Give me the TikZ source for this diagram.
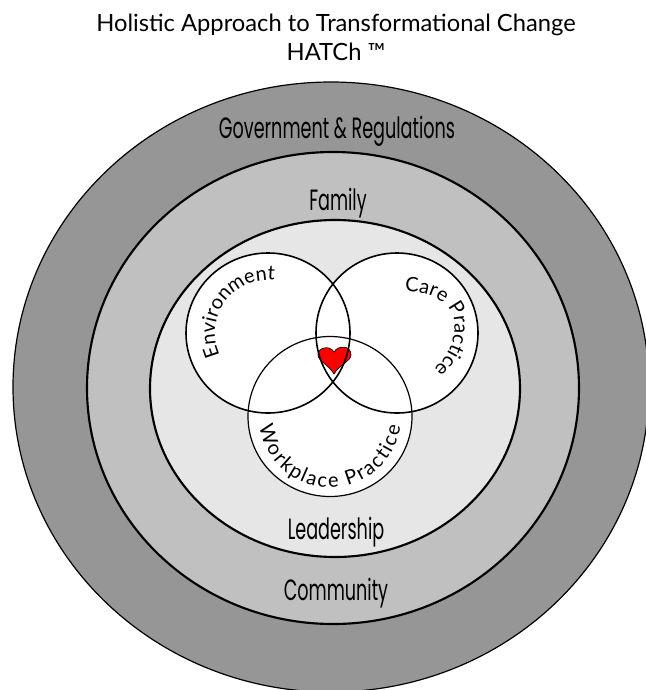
\documentclass[tikz,border=0pt]{standalone}
\usepackage{fontspec}
\usetikzlibrary{decorations.text}
\newfontfamily\titlefont{Lato}
\newfontfamily\ringfont[FakeStretch=0.6]{Poppins}
\tikzset{every picture/.style={line width=0.75pt}}
\tikzset{
  thinring/.style={draw=black,line width=0.9pt},
  thickring/.style={draw=black,line width=1.6pt},
  vennline/.style={draw=black,line width=1.2pt},
  ringtext/.style={inner sep=0.75pt,font=\ringfont\fontsize{22}{24}\selectfont},
  titletext/.style={inner sep=0.75pt,font=\titlefont\fontsize{17.8}{20}\selectfont},
  curvetext/.style={decorate,decoration={text along path,text align=fit to path,
    text={|\titlefont\fontsize{15}{16}\selectfont|#1}}}
}

\begin{document}
\begin{tikzpicture}[x=0.75pt,y=0.75pt,yscale=-1,xscale=1]
\useasboundingbox (0,0) rectangle (646,690);
\clip (0,0) rectangle (646,690);

%Shape: Ellipse rings
\draw [thinring, fill={rgb, 255:red, 150; green, 150; blue, 150 }] (331,387) ellipse (318 and 305);
\draw [thickring, fill={rgb, 255:red, 192; green, 192; blue, 192 }] (333,388) ellipse (246 and 236);
\draw [thickring, fill={rgb, 255:red, 230; green, 230; blue, 230 }] (335,388.5) ellipse (185 and 168.5);

%Shape: Circle fills
\fill [white] (268,333) ellipse (82 and 80);
\fill [white] (397,333) ellipse (81 and 80);
\fill [white] (330,416.5) ellipse (82 and 80);

%Shape: Heart
\draw [fill={rgb, 255:red, 255; green, 0; blue, 0 }, line width=0.5pt] (334,374) .. controls (329,365) and (318,361) .. (318,355) .. controls (318,347) and (330,345) .. (334,352) .. controls (338,345) and (351,345) .. (351,355) .. controls (351,361) and (339,365) .. (334,374) -- cycle ;

%Shape: Circle lines
\draw [vennline] (268,333) ellipse (82 and 80);
\draw [vennline] (397,333) ellipse (81 and 80);
\draw [thinring] (330,416.5) ellipse (82 and 80);

%Curve text
\path [curvetext={Environment}] (268,333) ++(155:53) arc [start angle=155, end angle=274, radius=53];
\path [curvetext={Care Practice}] (405,292) .. controls (425,291) and (445,298) .. (453,315) .. controls (458,335) and (450,355) .. (434,369);
\path [curvetext={Workplace Practice}] (330,416.5) ++(172:71) arc [start angle=172, end angle=8, radius=71];

% Text Node
\draw (336,25) node (titleline) [titletext] {Holistic Approach to Transformational Change};
% Text Node
\draw (336,52) node (hatchline) [titletext] {HATCh ™};
% Text Node
\draw (337,131) node (govlabel) [ringtext] {Government \& Regulations};
% Text Node
\draw (338,203) node (familylabel) [ringtext] {Family};
% Text Node
\draw (336,532) node (leaderlabel) [ringtext] {Leadership};
% Text Node
\draw (336,593) node (communitylabel) [ringtext] {Community};

\end{tikzpicture}
\end{document}
